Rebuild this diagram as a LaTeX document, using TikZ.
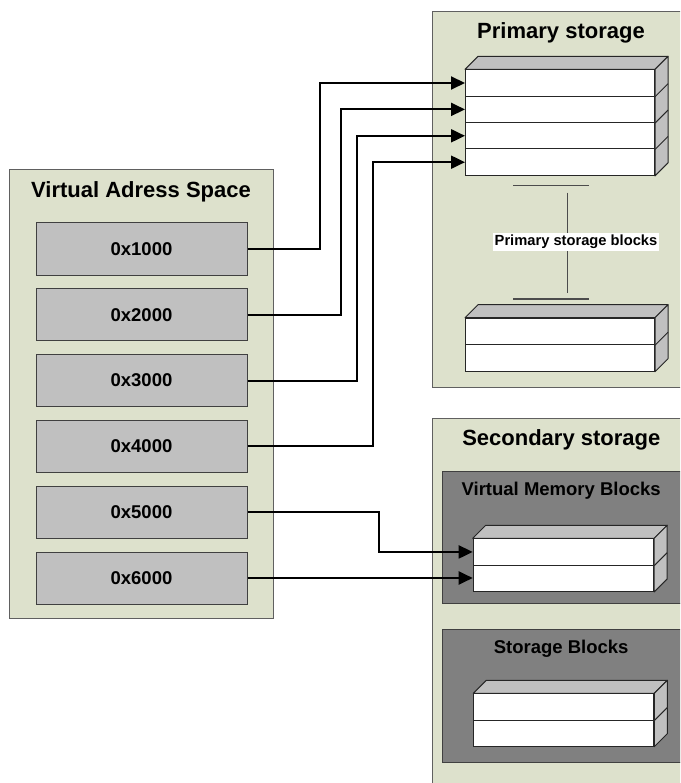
\documentclass[tikz,border=0pt]{standalone}
\usepackage{fontspec}
\setmainfont{Liberation Sans}
\usetikzlibrary{arrows.meta,calc}
\definecolor{panelfill}{RGB}{221,225,204}
\definecolor{boxgray}{RGB}{192,192,192}
\definecolor{darkgray2}{RGB}{128,128,128}
\definecolor{edgegray}{RGB}{96,96,96}
\newcommand\stackfaces[2]{%
  \filldraw[face] (#1.north west) -- ++(13,-13) -- ($(#1.north east)+(13,-13)$) -- (#1.north east) -- cycle;
  \filldraw[face] (#1.north east) -- ++(13,-13) -- ($(#2.south east)+(13,-13)$) -- (#2.south east) -- cycle;}
\begin{document}
\begin{tikzpicture}[x=1pt,y=-1pt,
  panel/.style={draw=edgegray,line width=1.2pt,fill=panelfill,anchor=north west,inner sep=0pt},
  darkpanel/.style={draw=black!75,line width=1pt,fill=darkgray2,anchor=north west,inner sep=0pt},
  addr/.style={draw=black!75,line width=1pt,fill=boxgray,minimum width=211pt,minimum height=52pt,inner sep=0pt,font=\bfseries\fontsize{18.5}{22}\selectfont},
  row/.style={draw=black!85,line width=1pt,fill=white,anchor=north west,inner sep=0pt},
  face/.style={draw=black!85,line width=1pt,fill=boxgray,line join=round},
  title/.style={anchor=base,inner sep=0pt,font=\bfseries\fontsize{22}{26}\selectfont},
  subtitle/.style={anchor=base,inner sep=0pt,font=\bfseries\fontsize{18.5}{22}\selectfont},
  conn/.style={draw=black,line width=2pt,-{Triangle[length=14pt,width=13pt]}},
  sep/.style={draw=black!70,line width=1.2pt}]
\useasboundingbox (0,0) rectangle (680,783);
\clip (0,0) rectangle (680,783);
\fill[white] (0,0) rectangle (680,783);

% panels
\node[panel,minimum width=264pt,minimum height=449pt] (vas) at (9,169) {};
\node[panel,minimum width=250pt,minimum height=376pt] (prim) at (432,11) {};
\node[panel,minimum width=250pt,minimum height=372pt] (sec) at (432,418) {};
\node[darkpanel,minimum width=250pt,minimum height=132pt] (vmb) at (442,471) {};
\node[darkpanel,minimum width=250pt,minimum height=133pt] (stb) at (442,629) {};

% titles
\node[title] (tvas) at (141,197.3) {Virtual Adress Space};
\node[title] (tprim) at (561,38.3) {Primary storage};
\node[title] (tsec) at (561.3,445) {Secondary storage};
\node[subtitle] (tvmb) at (561.2,495) {Virtual Memory Blocks};
\node[subtitle] (tstb) at (561.2,653.3) {Storage Blocks};

% address boxes
\node[addr] (a1) at (141.5,249) {0x1000};
\node[addr] (a2) at (141.5,314.8) {0x2000};
\node[addr] (a3) at (141.5,380.6) {0x3000};
\node[addr] (a4) at (141.5,446.4) {0x4000};
\node[addr] (a5) at (141.5,512.2) {0x5000};
\node[addr] (a6) at (141.5,578) {0x6000};

% primary storage upper stack
\foreach \i/\y in {1/69.3,2/95.7,3/122.1,4/148.5}
  \node[row,minimum width=189pt,minimum height=26.4pt] (p\i) at (465,\y) {};
\stackfaces{p1}{p4}
\foreach \i in {1,2,3} \draw[face] (p\i.south east) -- ++(13,-13);

% separator and label
\coordinate (s1l) at (513,185.7); \coordinate (s1r) at (589,185.7);
\coordinate (s2l) at (513,299); \coordinate (s2r) at (589,299);
\coordinate (vt) at (567.7,192.7); \coordinate (vb) at (567.7,292.7);
\draw[sep] (s1l) -- (s1r);
\draw[sep] (s2l) -- (s2r);
\draw[sep] (vt) -- (vb);
\node[anchor=base,fill=white,inner xsep=1.5pt,inner ysep=2pt,font=\bfseries\fontsize{14.7}{17}\selectfont] (lbl) at (576,246) {Primary storage blocks};

% primary storage lower stack
\foreach \i/\y in {1/317.7,2/344.2}
  \node[row,minimum width=189pt,minimum height=26.5pt] (q\i) at (465,\y) {};
\stackfaces{q1}{q2}
\draw[face] (q1.south east) -- ++(13,-13);

% virtual memory blocks stack
\foreach \i/\y in {1/538.3,2/564.6}
  \node[row,minimum width=180.5pt,minimum height=26.3pt] (v\i) at (472.7,\y) {};
\stackfaces{v1}{v2}
\draw[face] (v1.south east) -- ++(13,-13);

% storage blocks stack
\foreach \i/\y in {1/693.3,2/719.5}
  \node[row,minimum width=180pt,minimum height=26.2pt] (s\i) at (473.3,\y) {};
\stackfaces{s1}{s2}
\draw[face] (s1.south east) -- ++(13,-13);

% connectors
\draw[conn] (a1.east) -- ++(72,0) |- (p1.west);
\draw[conn] (a2.east) -- ++(93.7,0) |- (p2.west);
\draw[conn] (a3.east) -- ++(109.7,0) |- (p3.west);
\draw[conn] (a4.east) -- ++(125.7,0) |- (p4.west);
\draw[conn] (a5.east) -- ++(131.3,0) |- (v1.west);
\draw[conn] (a6.east) -- (a6.east -| v2.west);
\end{tikzpicture}
\end{document}
